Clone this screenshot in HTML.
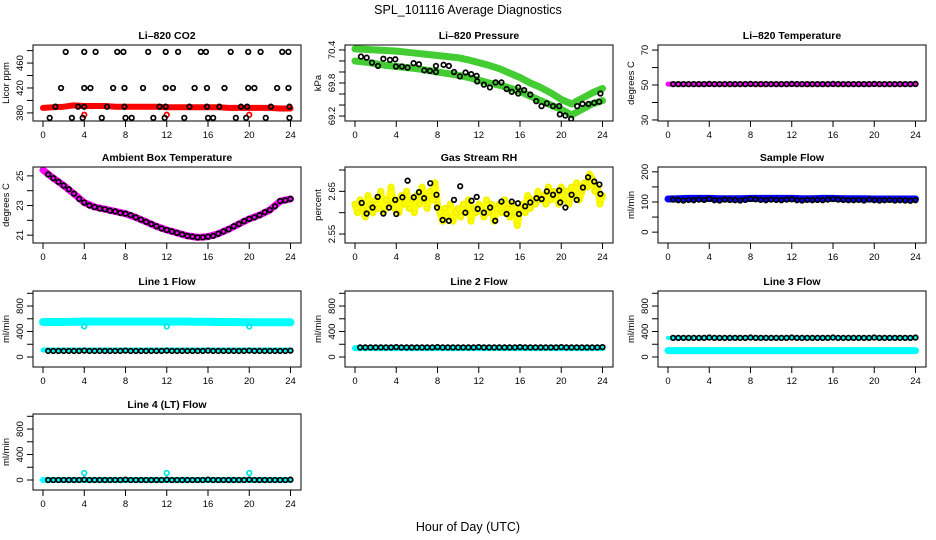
<!DOCTYPE html>
<html><head><meta charset="utf-8">
<style>
html,body{margin:0;padding:0;background:#fff;}
svg{display:block;font-family:"Liberation Sans",Arial,sans-serif;}
</style></head>
<body>
<svg id="chart" width="936" height="540" viewBox="0 0 936 540" xmlns="http://www.w3.org/2000/svg">
<text x="468" y="14" text-anchor="middle" font-size="12.5">SPL_101116  Average Diagnostics</text>
<text x="468" y="531" text-anchor="middle" font-size="12.5">Hour of Day (UTC)</text>
</svg>
<script>
const hours = [0,1,2,3,4,5,6,7,8,9,10,11,12,13,14,15,16,17,18,19,20,21,22,23,24];
const halfHours = [0.5,1,1.5,2,2.5,3,3.5,4,4.5,5,5.5,6,6.5,7,7.5,8,8.5,9,9.5,10,10.5,11,11.5,12,12.5,13,13.5,14,14.5,15,15.5,16,16.5,17,17.5,18,18.5,19,19.5,20,20.5,21,21.5,22,22.5,23,23.5,24];
const quarterHours = [0,0.25,0.5,0.75,1,1.25,1.5,1.75,2,2.25,2.5,2.75,3,3.25,3.5,3.75,4,4.25,4.5,4.75,5,5.25,5.5,5.75,6,6.25,6.5,6.75,7,7.25,7.5,7.75,8,8.25,8.5,8.75,9,9.25,9.5,9.75,10,10.25,10.5,10.75,11,11.25,11.5,11.75,12,12.25,12.5,12.75,13,13.25,13.5,13.75,14,14.25,14.5,14.75,15,15.25,15.5,15.75,16,16.25,16.5,16.75,17,17.25,17.5,17.75,18,18.25,18.5,18.75,19,19.25,19.5,19.75,20,20.25,20.5,20.75,21,21.25,21.5,21.75,22,22.25,22.5,22.75,23,23.25,23.5,23.75,24];
const xTicks = [0,4,8,12,16,20,24];

// CO2
const co2BlackT = [2.2,4,5.1,7.2,7.8,10.2,11.9,13.1,15.3,15.8,18.2,19.9,21.1,23.2,23.8, 1.75,4,4.6,6.8,7.9,9.7,11.9,12.6,14.7,15.9,17.6,19.9,20.5,22.7,23.8, 1.2,3.4,4,6.2,7.9,11.3,11.9,14.2,15.9,17.1,19.2,19.8,22.1,23.9, 0.65,2.8,3.85,5.7,8,8.6,10.7,11.8,13.7,16,16.5,18.7,19.7,21.6,23.9];
const co2BlackV = [478,478,478,478,478,478,478,478,478,478,478,478,478,478,478, 420,420,420,420,420,420,420,420,420,420,420,420,420,420,420, 390,390,390,390,390,390,390,390,390,390,390,390,390,390, 372,372,372,372,372,372,372,372,372,372,372,372,372,372,372];
const co2Red = [388,389,390,392,391,391,391,390,390,390,390,390,389,389,389,389,389,389,388,388,388,388,388,387,387];
const co2RedOutT = [4,12,20];
const co2RedOutV = [377,377,377];

// Pressure
const presUpper = [70.42,70.41,70.4,70.39,70.38,70.36,70.34,70.32,70.3,70.28,70.26,70.22,70.17,70.12,70.06,69.98,69.9,69.8,69.72,69.62,69.5,69.42,69.52,69.62,69.7];
const presLower = [70.2,70.18,70.15,70.12,70.1,70.08,70.06,70.03,70.0,69.97,69.94,69.9,69.85,69.8,69.76,69.71,69.65,69.56,69.48,69.4,69.32,69.22,69.32,69.42,69.48];
const presBlackT = [0.58,1.13,1.65,2.23,2.75,3.39,3.91,3.97,4.55,5.1,5.68,6.2,6.72,7.27,7.85,7.85,8.59,9.1,9.6,10.17,10.72,11.27,11.79,11.85,12.5,13.08,13.63,14.2,14.7,15.2,15.83,15.83,16.4,17.0,17.57,18.09,18.6,19.2,19.8,19.86,20.4,20.96,21.54,22.06,22.64,23.19,23.68,23.8];
const presBlackV = [70.28,70.26,70.17,70.11,70.24,70.22,70.23,70.1,70.1,70.08,70.16,70.14,70.03,70.02,70.11,70.0,70.13,70.11,70.0,69.92,69.99,69.96,69.93,69.83,69.77,69.72,69.81,69.81,69.69,69.64,69.72,69.61,69.67,69.59,69.47,69.38,69.43,69.38,69.38,69.23,69.21,69.15,69.38,69.42,69.42,69.44,69.46,69.61];

// Li-820 temperature
const tempLine = [50.5,50.5,50.5,50.5,50.5,50.5,50.5,50.5,50.5,50.5,50.5,50.5,50.5,50.5,50.5,50.5,50.5,50.5,50.5,50.5,50.5,50.5,50.5,50.5,50.5];
const tempBlack = [50.5,50.5,50.5,50.5,50.5,50.5,50.5,50.6,50.5,50.5,50.5,50.5,50.5,50.5,50.5,50.6,50.5,50.5,50.5,50.5,50.5,50.5,50.5,50.6,50.5,50.5,50.5,50.5,50.5,50.5,50.5,50.6,50.5,50.5,50.5,50.5,50.5,50.5,50.5,50.6,50.5,50.5,50.5,50.5,50.5,50.5,50.5,50.6];

// Ambient box temperature
const ambLine = [25.4,24.85,24.35,23.8,23.2,22.9,22.75,22.6,22.45,22.2,21.9,21.6,21.35,21.15,20.95,20.85,20.9,21.1,21.4,21.75,22.1,22.35,22.7,23.3,23.45];
const ambBlack = [25.1,24.85,24.6,24.35,24.1,23.8,23.45,23.2,23.0,22.9,22.8,22.75,22.65,22.6,22.5,22.45,22.35,22.2,22.05,21.9,21.75,21.6,21.45,21.35,21.25,21.15,21.05,20.95,20.9,20.85,20.85,20.9,20.95,21.1,21.25,21.4,21.6,21.75,21.95,22.1,22.2,22.35,22.55,22.7,22.95,23.3,23.35,23.45];

// Gas stream RH
const rhYellow = [2.62,2.60,2.63,2.61,2.59,2.64,2.62,2.60,2.63, 2.61,2.65,2.60,2.63,2.62,2.66,2.61,2.63, 2.60,2.64,2.62,2.65,2.61,2.63,2.60,2.64, 2.62,2.66,2.63,2.61,2.65,2.63,2.67,2.62, 2.60,2.58,2.61,2.59,2.62,2.58,2.60,2.61, 2.59,2.62,2.60,2.63,2.58,2.61,2.60,2.62, 2.61,2.59,2.63,2.60,2.62,2.58,2.61,2.62, 2.60,2.63,2.61,2.59,2.62,2.60,2.57,2.61, 2.62,2.60,2.64,2.61,2.63,2.62,2.65,2.63, 2.64,2.62,2.66,2.63,2.65,2.64,2.62,2.66, 2.63,2.65,2.62,2.66,2.64,2.67,2.63,2.65, 2.67,2.66,2.69,2.68,2.65,2.66,2.62,2.64];
const rhBlackT = [0.65,1.13,1.7,2.2,2.75,3.3,3.9,4.0,4.6,5.1,5.7,6.2,6.7,7.3,7.9,7.95,8.5,9.1,9.6,10.2,10.7,11.3,11.8,11.9,12.5,13.1,13.6,14.2,14.7,15.2,15.8,15.9,16.5,17.0,17.6,18.1,18.6,19.2,19.8,19.9,20.4,21.0,21.5,22.1,22.6,23.2,23.7,23.8];
const rhBlackV = [2.623,2.598,2.612,2.637,2.598,2.612,2.63,2.597,2.636,2.675,2.636,2.648,2.634,2.669,2.642,2.612,2.583,2.581,2.63,2.662,2.6,2.628,2.637,2.609,2.6,2.612,2.581,2.626,2.597,2.626,2.622,2.597,2.615,2.624,2.634,2.632,2.65,2.642,2.652,2.624,2.612,2.642,2.63,2.659,2.683,2.673,2.666,2.644];

// Sample flow
const sampleBlue = [110,111,112,112,112,111,111,111,112,112,112,112,112,111,111,112,112,111,111,111,110,110,110,110,110];
const sampleBlack = [108,106,105,107,106,108,107,110,106,105,108,107,106,105,107,110,109,107,106,108,107,106,108,109,106,105,107,106,107,106,108,110,108,107,106,106,107,105,108,106,105,106,107,105,106,105,104,106];

// Line flows
const line1Cyan = [550,550,550,552,555,556,556,556,556,556,556,556,556,555,555,554,552,550,550,548,545,545,545,545,545];
const line1CyanLow = [110,110,110,110,110,110,110,110,110,110,110,110,110,110,110,110,110,110,110,110,110,110,110,110,110];
const line1Black = [95,95,95,95,95,95,95,100,95,95,95,95,95,95,95,100,95,95,95,95,95,95,95,100,95,95,95,95,95,95,95,100,95,95,95,95,95,95,95,100,95,95,95,95,95,95,95,100];
const line1OutT = [4,12,20];
const line1OutV = [480,480,480];
const line2Cyan = [140,140,140,140,140,140,140,140,140,140,140,140,140,140,140,140,140,140,140,140,140,140,140,140,140];
const line2Black = [150,150,150,150,150,150,150,155,150,150,150,150,150,150,150,155,150,150,150,150,150,150,150,155,150,150,150,150,150,150,150,155,150,150,150,150,150,150,150,155,150,150,150,150,150,150,150,155];
const line3CyanLow = [100,100,100,100,100,100,100,100,100,100,100,100,100,100,100,100,100,100,100,100,100,100,100,100,100];
const line3CyanHigh = [300,300,300,300,300,300,300,300,300,300,300,300,300,300,300,300,300,300,300,300,300,300,300,300,300];
const line3Black = [300,300,300,300,300,300,300,305,300,300,300,300,300,300,300,305,300,300,300,300,300,300,300,305,300,300,300,300,300,300,300,305,300,300,300,300,300,300,300,305,300,300,300,300,300,300,300,305];
const line4Black = [0,0,0,0,0,0,0,5,0,0,0,0,0,0,0,5,0,0,0,0,0,0,0,5,0,0,0,0,0,0,0,5,0,0,0,0,0,0,0,5,0,0,0,0,0,0,0,5];
const line4Cyan = [0,0,0,0,0,0,0,0,0,0,0,0,0,0,0,0,0,0,0,0,0,0,0,0,0];
const line4OutT = [4,12,20];
const line4OutV = [110,110,110];
const flowTicks = [0,200,400,600,800,1000];
const flowLabels = [0,400,800];

const svg = document.getElementById('chart');
const NS = 'http://www.w3.org/2000/svg';
function mk(tag, attrs, parent){
  const e = document.createElementNS(NS, tag);
  for (const k in attrs) e.setAttribute(k, attrs[k]);
  (parent||svg).appendChild(e);
  return e;
}
const colX0 = [43, 355, 668];
const rowTop = [45, 167, 291, 414];
const PH = 76;

function panel(name, col, row, yBot, yTop, yTicks, yLabels, yTitle){
  const g = mk('g', {});
  
  
  const x0 = colX0[col], top = rowTop[row], bot = top + PH;
  const xs = h => x0 + h * (247.5 / 24);
  const ys = v => bot - (v - yBot) / (yTop - yBot) * PH;
  const left = x0 - 10, right = x0 + 258;
  const clip = mk('clipPath', {id: 'clip-' + name}, g);
  mk('rect', {x: left, y: top, width: right - left, height: PH}, clip);
  const marks = mk('g', {'clip-path': 'url(#clip-' + name + ')'}, g);
  
  
  const box = mk('rect', {x: left, y: top, width: right - left, height: PH, fill: 'none', stroke: '#000', 'stroke-width': 1}, g);
  
  
  const t = mk('text', {x: (left + right) / 2, y: top - 6, 'text-anchor': 'middle', 'font-size': 10.5, 'font-weight': 'bold'}, g);
  t.textContent = name.replace(/-/g, ' ');
  
  
  for (const h of xTicks){
    mk('line', {x1: xs(h), x2: xs(h), y1: bot, y2: bot + 6, stroke: '#000'}, g);
    const lb = mk('text', {x: xs(h), y: bot + 17, 'text-anchor': 'middle', 'font-size': 9.5}, g);
    lb.textContent = h;
    
    
  }
  for (const v of yTicks){
    mk('line', {x1: left - 6, x2: left, y1: ys(v), y2: ys(v), stroke: '#000'}, g);
  }
  for (const v of yLabels){
    const lb = mk('text', {x: 0, y: 0, 'text-anchor': 'middle', 'font-size': 9.5, transform: 'translate(' + (left - 10) + ',' + ys(v) + ') rotate(-90)'}, g);
    lb.textContent = v;
    
    
  }
  const yt = mk('text', {x: 0, y: 0, 'text-anchor': 'middle', 'font-size': 9.5, transform: 'translate(' + (left - 24) + ',' + (top + PH / 2) + ') rotate(-90)'}, g);
  yt.textContent = yTitle;
  
  
  return {marks, xs, ys};
}
function band(p, ts, vs, color, w, name){
  const d = ts.map((t, i) => (i ? 'L' : 'M') + p.xs(t).toFixed(1) + ',' + p.ys(vs[i]).toFixed(1)).join('');
  const e = mk('path', {d, fill: 'none', stroke: color, 'stroke-width': w, 'stroke-linejoin': 'round', 'stroke-linecap': 'round'}, p.marks);
  
  
}
function pts(p, ts, vs, color, name, r){
  for (let i = 0; i < ts.length; i++){
    const c = mk('circle', {cx: p.xs(ts[i]), cy: p.ys(vs[i]), r: r || 2.3, fill: 'none', stroke: color, 'stroke-width': 1.7}, p.marks);
    
    
  }
}

let p = panel('Li–820-CO2', 0, 0, 367, 489, [380,400,420,440,460,480], [380,420,460], 'Licor ppm');
band(p, hours, co2Red, '#ff0000', 6, 'co2-red-band');
pts(p, co2RedOutT, co2RedOutV, '#ff0000', 'co2-red-point');
pts(p, co2BlackT, co2BlackV, '#000', 'co2-black-point');

p = panel('Li–820-Pressure', 1, 0, 69.11, 70.49, [69.2,69.4,69.6,69.8,70.0,70.2,70.4], [69.2,69.8,70.4], 'kPa');
band(p, hours, presUpper, '#44cc33', 7, 'pressure-upper-band');
band(p, hours, presLower, '#44cc33', 7, 'pressure-lower-band');
pts(p, presBlackT, presBlackV, '#000', 'pressure-black-point');

p = panel('Li–820-Temperature', 2, 0, 29.4, 72.9, [30,40,50,60,70], [30,50,70], 'degrees C');
band(p, hours, tempLine, '#ff00ff', 5, 'temp-magenta-band');
pts(p, halfHours, tempBlack, '#000', 'temp-black-point');

p = panel('Ambient-Box-Temperature', 0, 1, 20.47, 25.6, [21,22,23,24,25], [21,23,25], 'degrees C');
band(p, hours, ambLine, '#ff00ff', 7, 'ambient-magenta-band');
pts(p, halfHours, ambBlack, '#000', 'ambient-black-point');

p = panel('Gas-Stream-RH', 1, 1, 2.529, 2.707, [2.55,2.60,2.65,2.70], [2.55,2.65], 'percent');
band(p, quarterHours, rhYellow, '#ffff00', 7, 'rh-yellow-band');
pts(p, quarterHours, rhYellow, '#f2f200', 'rh-yellow-point', 2.6);
pts(p, rhBlackT, rhBlackV, '#000', 'rh-black-point');

p = panel('Sample-Flow', 2, 1, -36, 216, [0,50,100,150,200], [0,100,200], 'ml/min');
band(p, hours, sampleBlue, '#0000ff', 7, 'sample-blue-band');
pts(p, halfHours, sampleBlack, '#000', 'sample-black-point');

p = panel('Line-1-Flow', 0, 2, -157, 1036, flowTicks, flowLabels, 'ml/min');
band(p, hours, line1Cyan, '#00ffff', 8, 'line1-cyan-band');
band(p, hours, line1CyanLow, '#00ffff', 5, 'line1-cyan-low-band');
pts(p, line1OutT, line1OutV, '#00e5e5', 'line1-cyan-point');
pts(p, halfHours, line1Black, '#000', 'line1-black-point');

p = panel('Line-2-Flow', 1, 2, -157, 1036, flowTicks, flowLabels, 'ml/min');
band(p, hours, line2Cyan, '#00ffff', 6, 'line2-cyan-band');
pts(p, halfHours, line2Black, '#000', 'line2-black-point');

p = panel('Line-3-Flow', 2, 2, -157, 1036, flowTicks, flowLabels, 'ml/min');
band(p, hours, line3CyanLow, '#00ffff', 7, 'line3-cyan-band');
band(p, hours, line3CyanHigh, '#00ffff', 4, 'line3-cyan-high-band');
pts(p, halfHours, line3Black, '#000', 'line3-black-point');

p = panel('Line-4-(LT)-Flow', 0, 3, -157, 1036, flowTicks, flowLabels, 'ml/min');
band(p, hours, line4Cyan, '#00ffff', 6, 'line4-cyan-band');
pts(p, line4OutT, line4OutV, '#00e5e5', 'line4-cyan-point');
pts(p, halfHours, line4Black, '#000', 'line4-black-point');
</script>
</body></html>
